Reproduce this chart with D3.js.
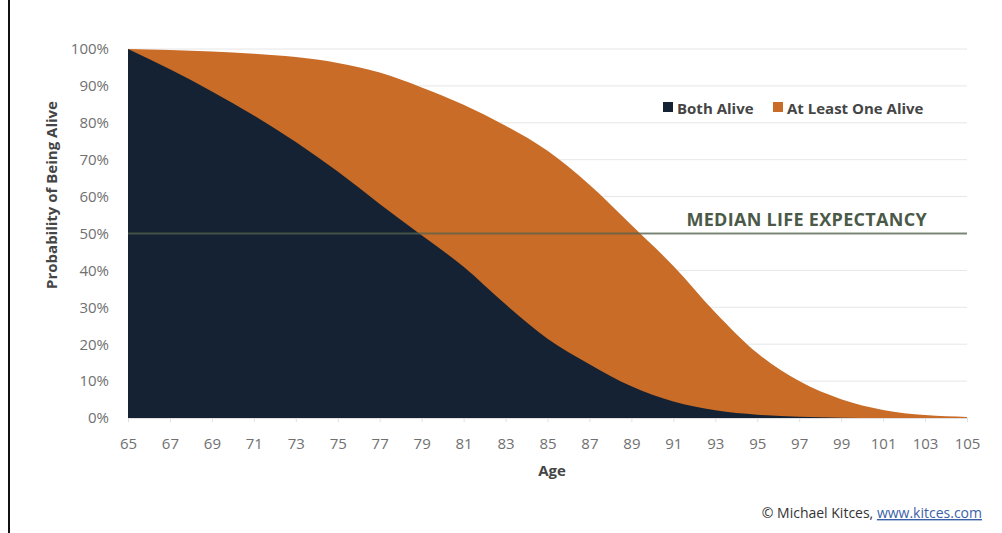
<!DOCTYPE html>
<html>
<head>
<meta charset="utf-8">
<script src="https://cdn.jsdelivr.net/npm/d3@7"></script>
<style>
  html, body { margin: 0; padding: 0; background: #fff; }
  svg { display: block; font-family: "Open Sans", "Noto Sans", sans-serif; }
</style>
</head>
<body>
<svg id="chart" width="1002" height="533"></svg>
<script>
// Survival probabilities for a 65-year-old couple, by age
const ages = [65, 67, 69, 71, 73, 75, 77, 79, 81, 83, 85, 87, 89, 91, 93, 95, 97, 99, 101, 103, 105];
const bothAlive = [100, 94.5, 88.5, 82, 74.8, 66.8, 58, 49.5, 41.0, 30.8, 21.5, 14.6, 8.6, 4.5, 2.1, 0.9, 0.35, 0.1, 0, 0, 0];
const atLeastOneAlive = [100, 99.7, 99.3, 98.7, 97.8, 96.2, 93.6, 89.6, 84.9, 79.2, 72.4, 63.2, 52.3, 41.2, 28.6, 17.6, 10, 5.1, 2.2, 0.8, 0.3];
const xTicks = ages;
const yTicks = [0, 10, 20, 30, 40, 50, 60, 70, 80, 90, 100];
const medianLevel = 50;
const seriesNames = ["Both Alive", "At Least One Alive"];

const svg = d3.select("#chart");
const plotLeft = 128, plotRight = 967, plotTop = 49, plotBottom = 418;

const x = d3.scaleLinear().domain([65, 105]).range([plotLeft, plotRight]);
const y = d3.scaleLinear().domain([0, 100]).range([plotBottom, plotTop]);

// frame line on the left edge
svg.append("line")
  .attr("x1", 9).attr("x2", 9).attr("y1", 0).attr("y2", 533)
  .attr("stroke", "#111").attr("stroke-width", 2);

// horizontal gridlines
svg.append("g")
  .selectAll("line")
  .data(yTicks)
  .join("line")
  .attr("x1", plotLeft).attr("x2", plotRight)
  .attr("y1", d => y(d)).attr("y2", d => y(d))
  .attr("stroke", "#e6e6e6").attr("stroke-width", 1);

// y axis labels
const yAxis = d3.axisLeft(y).tickValues(yTicks).tickFormat(d => d + "%").tickSize(0).tickPadding(19);
const gy = svg.append("g").attr("transform", `translate(${plotLeft},0)`).call(yAxis);
gy.select(".domain").remove();
gy.selectAll("text").attr("fill", "#707070")
  .style("font-size", "15px").style("font-family", "'Open Sans', sans-serif");

// areas
const rows = ages.map((a, i) => ({ age: a, both: bothAlive[i], one: atLeastOneAlive[i] }));
const areaOne = d3.area().x(d => x(d.age)).y0(y(0)).y1(d => y(d.one)).curve(d3.curveMonotoneX);
const areaBoth = d3.area().x(d => x(d.age)).y0(y(0)).y1(d => y(d.both)).curve(d3.curveMonotoneX);

svg.append("path").datum(rows).attr("d", areaOne).attr("fill", "#c86c27");
svg.append("path").datum(rows).attr("d", areaBoth).attr("fill", "#152233");

// x axis
const xAxis = d3.axisBottom(x).tickValues(xTicks).tickFormat(d3.format("d")).tickSize(4).tickPadding(16);
const gx = svg.append("g").attr("transform", `translate(0,${plotBottom})`).call(xAxis);
gx.select(".domain").attr("stroke", "#e0e0e0");
gx.selectAll(".tick line").attr("stroke", "#e0e0e0");
gx.selectAll("text").attr("fill", "#707070")
  .style("font-size", "15px").style("font-family", "'Open Sans', sans-serif");

// median life expectancy line
svg.append("line")
  .attr("x1", plotLeft).attr("x2", plotRight)
  .attr("y1", y(medianLevel)).attr("y2", y(medianLevel))
  .attr("stroke", "#55634f").attr("stroke-opacity", 0.75).attr("stroke-width", 2);
svg.append("text")
  .attr("x", 927).attr("y", y(medianLevel) - 8)
  .attr("text-anchor", "end")
  .attr("fill", "#4b5a48")
  .style("font-size", "18px").style("font-weight", "bold").style("letter-spacing", "0.3px")
  .text("MEDIAN LIFE EXPECTANCY");

// legend
const colors = ["#152233", "#c86c27"];
const legendX = [663, 773];
const lg = svg.append("g");
seriesNames.forEach((name, i) => {
  lg.append("rect").attr("x", legendX[i]).attr("y", 102).attr("width", 10).attr("height", 10).attr("fill", colors[i]);
  lg.append("text").attr("x", legendX[i] + 14).attr("y", 113.5)
    .attr("fill", "#454545").style("font-size", "15px").style("font-weight", "bold")
    .text(name);
});

// axis titles
svg.append("text")
  .attr("x", 552).attr("y", 476).attr("text-anchor", "middle")
  .attr("fill", "#454545").style("font-size", "15px").style("font-weight", "bold")
  .text("Age");
svg.append("text")
  .attr("transform", "translate(57,195) rotate(-90)")
  .attr("text-anchor", "middle")
  .attr("fill", "#454545").style("font-size", "15px").style("font-weight", "bold")
  .text("Probability of Being Alive");

// credit line
const credit = svg.append("text")
  .attr("x", 982).attr("y", 518).attr("text-anchor", "end")
  .style("font-size", "14px");
credit.append("tspan").attr("fill", "#333").text("© Michael Kitces, ");
credit.append("tspan").attr("fill", "#3b5fa8").attr("text-decoration", "underline").text("www.kitces.com");
</script>
</body>
</html>
